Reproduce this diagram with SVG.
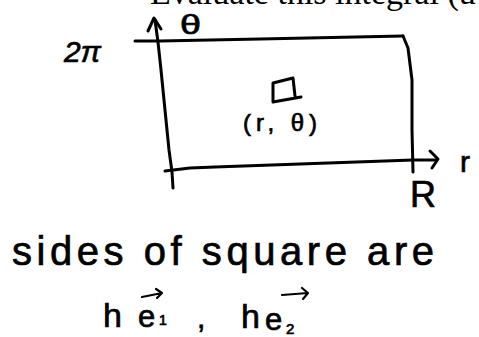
<svg xmlns="http://www.w3.org/2000/svg" width="479" height="337" viewBox="0 0 479 337">
<style>
.ink{fill:none;stroke:#000;stroke-width:3;stroke-linecap:round;stroke-linejoin:round}
.thin{fill:none;stroke:#000;stroke-width:2.2;stroke-linecap:round;stroke-linejoin:round}
.hw{font-family:"Liberation Sans","DejaVu Sans",sans-serif;fill:#000;stroke:#000;stroke-width:0.7}
.serif{font-family:"Liberation Serif","DejaVu Serif",serif;fill:#000}
</style>
<rect width="479" height="337" fill="#fff"/>
<text class="serif" x="150" y="4" font-size="34">Evaluate this integral (u</text>
<g id="axes">
<path class="ink" d="M155,20 L158,42 L161,70 L165,110 L169,150 L172,172 L173,188"/>
<path class="ink" d="M148,31 L154,18 L161,29"/>
<path class="ink" d="M165,171 L190,168 L215,167 L300,164 L413,160 L436,160"/>
<path class="ink" d="M430,151 L438,159 L432,168"/>
</g>
<g id="rect">
<path class="ink" d="M135,41 L160,41 L260,39 L403,36"/>
<path class="ink" d="M403,36 L408,48 L412,80 L412,130 L413,172"/>
</g>
<g id="square">
<path class="ink" d="M273,83 L293,78 L295,96 M273,83 L273,102 L301,97"/>
</g>
<g id="labels">
<text class="hw" x="64" y="62" font-size="30" font-style="italic">2π</text>
<text class="hw" font-size="28" transform="translate(180,34) scale(1.35,1)">θ</text>
<text class="hw" x="243" y="131" font-size="24" textLength="74" lengthAdjust="spacing">(r, θ)</text>
<text class="hw" x="460" y="172" font-size="30">r</text>
<text class="hw" x="410" y="207" font-size="36">R</text>
<text class="hw" x="12" y="265" font-size="40" textLength="422" lengthAdjust="spacing">sides of square are</text>
<text class="hw" x="103" y="327" font-size="34">h</text>
<text class="hw" x="138" y="327" font-size="31">e</text>
<text class="hw" x="159" y="325" font-size="14">1</text>
<text class="hw" x="197" y="328" font-size="30">,</text>
<text class="hw" x="241" y="328" font-size="34">h</text>
<text class="hw" x="265" y="330" font-size="31">e</text>
<text class="hw" x="286" y="334" font-size="15">2</text>
<path class="thin" d="M142,297 L162,293 M156,289 L162,293 L157,298"/>
<path class="thin" d="M282,295 L308,293 M302,288 L308,293 L303,299"/>
</g>
</svg>
